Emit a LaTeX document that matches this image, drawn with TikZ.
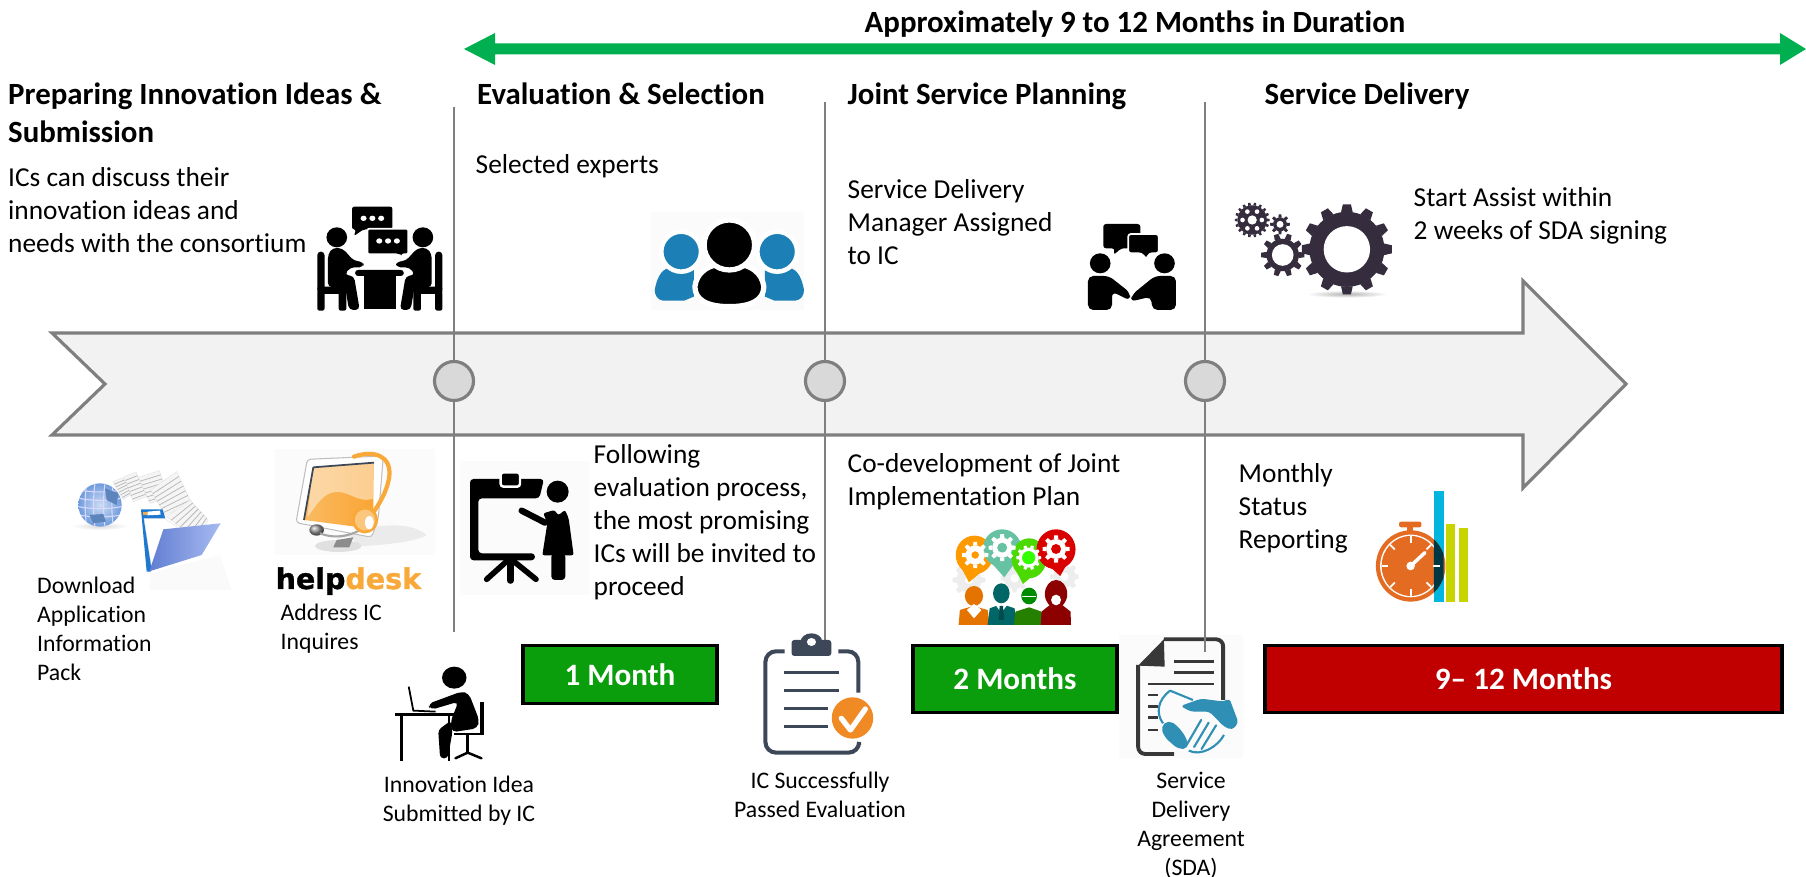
\documentclass[tikz,border=0pt]{standalone}
\usepackage{fontspec}
\usetikzlibrary{calc}
\setmainfont[Ligatures=NoCommon]{Carlito}
\newfontfamily\hdfont[BoldFeatures={FakeBold=1.2}]{DejaVu Sans}
\definecolor{axisgray}{HTML}{7F7F7F}
\definecolor{shaft}{HTML}{F2F2F2}
\definecolor{dotgray}{HTML}{D9D9D9}
\definecolor{spanGreen}{HTML}{00B050}
\definecolor{boxgreen}{HTML}{0A9E0C}
\definecolor{boxred}{HTML}{C00000}
\definecolor{expertblue}{HTML}{1C7FB6}
\definecolor{gearink}{HTML}{352C3D}
\definecolor{slateink}{HTML}{3C4858}
\definecolor{tickorange}{HTML}{F08A24}
\definecolor{watchorange}{HTML}{E46C22}
\definecolor{barblue}{HTML}{00B6DE}
\definecolor{baryellow}{HTML}{C8D400}
\definecolor{hdorange}{HTML}{F9A93A}
\definecolor{shakeblue}{HTML}{2F8FB5}
\definecolor{faintbg}{HTML}{FBFBFB}
\definecolor{folderblue}{HTML}{1E78D0}
\definecolor{folderfront}{HTML}{6C8CE8}
\definecolor{globeblue}{HTML}{6F9CDC}
\tikzset{
  bodytext/.style={font=\fontsize{7.78}{9.39}\selectfont,align=left,inner sep=0pt,anchor=north west,text=black},
  smalltext/.style={font=\fontsize{6.75}{8.25}\selectfont,align=left,inner sep=0pt,anchor=north west,text=black},
  smallcentre/.style={font=\fontsize{6.75}{8.25}\selectfont,align=center,inner sep=0pt,anchor=north,text=black},
  headtext/.style={font=\bfseries\fontsize{8.78}{10.6}\selectfont,align=left,inner sep=0pt,anchor=north west,text=black},
  spanbox/.style={draw=black,line width=1.1pt,text=white,font=\bfseries\fontsize{8.85}{10}\selectfont,inner sep=0pt},
  milestone/.style={circle,draw=axisgray,fill=dotgray,line width=0.9pt,minimum size=39*0.2845pt,inner sep=0pt},
  guide/.style={draw=axisgray,line width=0.45pt},
  paper/.style={fill=black!4,draw=black!12,line width=0.1pt},
}
\def\gy{1}
\newcommand{\gearshape}[8]{% cx cy router rinner hole teeth colour holecolour
  \begin{scope}[shift={(#1,#2)},yscale=\gy]
    \fill[#7] (0,0) circle [radius=#4];
    \pgfmathsetmacro\gstep{360/#6}
    \foreach \k in {1,...,#6}{
      \pgfmathsetmacro\ga{\k*\gstep}
      \fill[#7] (\ga-.30*\gstep:#4) -- (\ga-.17*\gstep:#3) -- (\ga+.17*\gstep:#3) -- (\ga+.30*\gstep:#4) -- cycle;
    }
    \fill[#8] (0,0) circle [radius=#5];
  \end{scope}}
\newcommand{\seatedperson}{%
  \fill (880,262) ellipse [x radius=27,y radius=30];
  \fill[rounded corners=1.2pt] (857,312)--(870,293)--(895,295)--(925,333)--(950,335)--(950,352)--(915,352)--(900,375)--(925,378)--(940,480)--(912,480)--(902,412)--(857,412)--cycle;
  \fill[rounded corners=1pt] (829,305)--(848,305)--(848,425)--(829,425)--cycle;
  \fill[rounded corners=.6pt] (829,410)--(905,410)--(905,432)--(829,432)--cycle;
  \fill[rounded corners=.6pt] (829,425)--(848,425)--(848,482)--(829,482)--cycle;
  \fill[rounded corners=.6pt] (885,425)--(905,425)--(905,482)--(885,482)--cycle;
}
\newcommand{\flyingsheet}[4]{% four corners
  \filldraw[paper] (#1) -- (#2) -- (#3) -- (#4) -- cycle;
  \foreach \t in {.15,.3,.45,.6,.75,.9}{\draw[black!28,line width=.22pt] ($(#1)!\t!(#4)$) -- ($(#2)!\t!(#3)$);}
}
\begin{document}
\begin{tikzpicture}[x=0.01cm,y=-0.01cm]
\useasboundingbox (0,0) rectangle (1806,877);
\fill[white] (0,0) rectangle (1806,877);

% ---------- duration arrow
\coordinate (spanL) at (464,49);
\coordinate (spanR) at (1806,49);
\fill[spanGreen] (spanL) -- (495,33) -- (495,43.5) -- (1780,43.5) -- (1780,33) -- (spanR) -- (1780,65) -- (1780,54.5) -- (495,54.5) -- (495,65) -- cycle;
\node[font=\bfseries\fontsize{8.78}{10.81}\selectfont,anchor=base,inner sep=0pt] (spanlabel) at (1135,33) {Approximately 9 to 12 Months in Duration};

% ---------- backdrops of icons
\fill[faintbg] (460,461) rectangle (589,595);
\fill[faintbg] (651,212) rectangle (804,310);
\fill[faintbg] (1119,635) rectangle (1243,758);
\fill[faintbg] (275,449) rectangle (435,555);

% ---------- main arrow
\draw[draw=axisgray,fill=shaft,line width=0.9pt,line join=miter] (52,333) -- (1523,333) -- (1523,281) -- (1626,384) -- (1523,488) -- (1523,435) -- (52,435) -- (105,384) -- cycle;

% ---------- milestones and guides
\coordinate (g1top) at (454,107); \coordinate (g1bot) at (454,632);
\coordinate (g2top) at (825,102); \coordinate (g2bot) at (825,640);
\coordinate (g3top) at (1205,102); \coordinate (g3bot) at (1205,652);
\draw[guide] (g1top) -- (g1bot);
\draw[guide] (g2top) -- (g2bot);
\node[milestone] (m1) at (454,381) {};
\node[milestone] (m2) at (825,381) {};

% ---------- headings
\node[headtext] (h1) at (7.5,78) {\strut Preparing Innovation Ideas \&\\Submission};
\node[headtext] (h2) at (476.5,78) {\strut Evaluation \& Selection};
\node[headtext] (h3) at (847,78) {\strut Joint Service Planning};
\node[headtext] (h4) at (1264,78) {\strut Service Delivery};

% ---------- body texts
\node[bodytext] (t1) at (7.5,163) {\strut ICs can discuss their\\innovation ideas and\\needs with the consortium};
\node[bodytext] (t2) at (475,150) {\strut Selected experts};
\node[bodytext] (t3) at (847,175) {\strut Service Delivery\\Manager Assigned\\to IC};
\node[bodytext] (t4) at (1413,182.5) {\strut Start Assist within\\2 weeks of SDA signing};
\node[bodytext] (t5) at (593,440) {\strut Following\\evaluation process,\\the most promising\\ICs will be invited to\\proceed};
\node[bodytext] (t6) at (847,448.5) {\strut Co-development of Joint\\Implementation Plan};
\node[bodytext] (t7) at (1238,459) {\strut Monthly\\Status\\Reporting};
\node[smalltext] (t8) at (36.5,572.7) {\strut Download\\Application\\Information\\Pack};
\node[smalltext] (t9) at (280,599.7) {\strut Address IC\\Inquires};
\node[smallcentre] (t10) at (459,771.2) {\strut Innovation Idea\\Submitted by IC};
\node[smallcentre] (t11) at (820,767.7) {\strut IC Successfully\\Passed Evaluation};
\node[smallcentre] (t12) at (1191,767.7) {\strut Service\\Delivery\\Agreement\\(SDA)};
\node[anchor=base west,inner sep=0pt,font=\hdfont\bfseries\fontsize{8.1}{10}\selectfont] (hd) at (275,589) {help\textcolor{hdorange}{desk}};

% ---------- duration boxes
\node[spanbox,fill=boxgreen,minimum width=194*0.2845pt,minimum height=58*0.2845pt] (b1) at (620,674.5) {1 Month};
\node[spanbox,fill=boxgreen,minimum width=204*0.2845pt,minimum height=67*0.2845pt] (b2) at (1015,679) {2 Months};
\node[spanbox,fill=boxred,minimum width=516*0.2845pt,minimum height=67*0.2845pt] (b3) at (1523.5,679) {9-- 12 Months};

% ---------- meeting icon
\begin{scope}[shift={(0,150)},xscale=.3827,yscale=.3333]
  \seatedperson
  \begin{scope}[shift={(1985,0)},xscale=-1]\seatedperson\end{scope}
  \fill[rounded corners=.8pt] (928,360) -- (1055,360) -- (1055,378) -- (928,378) -- cycle;
  \fill (950,370) rectangle (1035,478);
  \fill[rounded corners=.6pt] (920,170) -- (1025,170) -- (1025,238) -- (950,238) -- (925,258) -- (930,238) -- (920,238) -- cycle;
  \filldraw[draw=white,line width=.5pt,rounded corners=.6pt] (960,236) -- (1067,236) -- (1067,313) -- (1050,313) -- (1060,326) -- (1040,313) -- (960,313) -- cycle;
  \foreach \dx in {950,973,996}{\fill[white] (\dx,205) ellipse [x radius=8,y radius=8];}
  \foreach \dx in {991,1014,1037}{\fill[white] (\dx,273) ellipse [x radius=8,y radius=8];}
\end{scope}

% ---------- experts icon
\begin{scope}[shift={(600,150)},xscale=.3827,yscale=.3333]
  \fill[expertblue] (143,420) .. controls (150,375) and (165,350) .. (195,352) -- (245,350) -- (245,440) -- (220,452) -- (165,452) .. controls (150,450) and (143,435) .. (143,420) -- cycle;
  \fill[expertblue] (533,420) .. controls (526,375) and (511,350) .. (481,352) -- (431,350) -- (431,440) -- (456,452) -- (511,452) .. controls (526,450) and (533,435) .. (533,420) -- cycle;
  \filldraw[fill=expertblue,draw=white,line width=1.3pt] (212,305) ellipse [x radius=52,y radius=60];
  \filldraw[fill=expertblue,draw=white,line width=1.3pt] (463,305) ellipse [x radius=52,y radius=60];
  \filldraw[fill=black,draw=white,line width=1.5pt] (248,410) .. controls (252,370) and (280,340) .. (338,340) .. controls (395,340) and (424,370) .. (428,410) .. controls (428,450) and (395,470) .. (338,470) .. controls (280,470) and (248,450) .. (248,410) -- cycle;
  \filldraw[fill=black,draw=white,line width=1.5pt] (338,285) ellipse [x radius=66,y radius=75];
\end{scope}

% ---------- handshake icon
\begin{scope}[shift={(600,150)},xscale=.3827,yscale=.3333]
  \fill (1307,340) ellipse [x radius=27,y radius=30];
  \fill (1475,340) ellipse [x radius=27,y radius=30];
  \fill[rounded corners=1.5pt] (1275,480) -- (1275,378) -- (1330,378) -- (1385,428) -- (1385,452) -- (1338,425) -- (1338,480) -- cycle;
  \fill[rounded corners=1.5pt] (1505,480) -- (1505,378) -- (1450,378) -- (1392,432) -- (1385,455) -- (1440,440) -- (1443,480) -- cycle;
  \fill[rounded corners=.8pt] (1315,222) -- (1412,222) -- (1412,295) -- (1362,295) -- (1342,315) -- (1345,295) -- (1315,295) -- cycle;
  \filldraw[draw=white,line width=.5pt,rounded corners=.8pt] (1380,252) -- (1460,252) -- (1460,310) -- (1435,310) -- (1428,328) -- (1415,310) -- (1380,310) -- cycle;
\end{scope}

% ---------- gears
\begin{scope}[shift={(1200,180)},xscale=.3865,yscale=.3333]
  \def\gy{1.16}
  \shade[inner color=black!30,outer color=white] (380,342) ellipse [x radius=105,y radius=11];
  \gearshape{380}{208}{117}{97}{60}{12}{gearink}{white}
  \gearshape{214}{225}{56}{42}{28}{10}{gearink}{white}
  \gearshape{207}{133}{26}{18}{9}{8}{gearink}{white}
  \gearshape{135}{120}{45}{38}{12}{18}{gearink}{white}
  \foreach \a in {0,60,...,300}{\fill[white] ({135+25*cos(\a)},{120+29*sin(\a)}) ellipse [x radius=6,y radius=7];}
\end{scope}

% ---------- stopwatch and bars
\begin{scope}[shift={(1200,180)},xscale=.3865,yscale=.3333]
  \fill[barblue] (605,933) rectangle (630,1265);
  \fill[baryellow] (637,1032) rectangle (660,1265);
  \fill[baryellow] (670,1045) rectangle (693,1265);
  \fill[watchorange] (545,1158) ellipse [x radius=90,y radius=107];
  \fill[white] (545,1158) ellipse [x radius=79,y radius=94];
  \fill[watchorange] (545,1158) ellipse [x radius=75,y radius=90];
  \begin{scope}
    \clip (605,933) rectangle (630,1265);
    \fill[black!70!barblue] (545,1158) ellipse [x radius=90,y radius=107];
  \end{scope}
  \fill[watchorange,rounded corners=.6pt] (515,1025) rectangle (573,1042);
  \fill[watchorange] (536,1040) rectangle (552,1060);
  \foreach \a in {0,45,...,315}{\draw[white,line width=.5pt] ({545+58*cos(\a)},{1158+70*sin(\a)}) -- ({545+75*cos(\a)},{1158+90*sin(\a)});}
  \draw[white,line width=1pt,line cap=round] (545,1158) -- (582,1118);
  \fill[white] (545,1158) ellipse [x radius=11,y radius=13];
\end{scope}

% ---------- globe, papers and folder
\begin{scope}[shift={(50,440)},scale=.3333]
  \shade[inner color=black!14,outer color=white] (150,258) ellipse [x radius=85,y radius=12];
  \fill[black!2] (300,400) -- (510,345) -- (545,450) -- (300,450) -- cycle;
  \shade[inner color=globeblue!35!white,outer color=globeblue] (150,195) circle [radius=65];
  \begin{scope}
    \clip (150,195) circle [radius=65];
    \foreach \yy in {150,175,200,225}{\draw[white!85!blue,line width=.3pt] (85,\yy) .. controls (130,\yy+8) and (170,\yy+8) .. (215,\yy);}
    \foreach \xx in {110,135,165,190}{\draw[white!85!blue,line width=.3pt] (\xx,130) .. controls (\xx-6,175) and (\xx-6,215) .. (\xx,260);}
    \fill[globeblue!85!black] (118,225) -- (160,222) -- (168,245) -- (130,250) -- cycle;
    \fill[globeblue!85!black] (165,145) -- (205,160) -- (200,195) -- (170,180) -- cycle;
  \end{scope}
  \flyingsheet{188,125}{218,113}{250,160}{220,178}
  \flyingsheet{222,110}{258,96}{290,170}{250,185}
  \flyingsheet{265,112}{328,92}{355,175}{300,190}
  \flyingsheet{302,150}{380,95}{425,190}{345,225}
  \flyingsheet{350,230}{420,180}{475,240}{440,300}
  \fill[folderblue] (273,208) -- (338,208) -- (346,236) -- (330,300) -- (302,395) -- (290,395) -- cycle;
  \fill[hdorange] (280,215) rectangle (292,226);
  \fill[white] (292,215) -- (330,212) -- (332,224) -- (292,226) -- cycle;
  \filldraw[paper,fill=white] (282,236) -- (345,236) -- (380,260) -- (340,330) -- (305,385) -- cycle;
  \shade[left color=folderfront!90!black,right color=folderfront!60!white] (340,268) -- (512,250) -- (455,345) -- (298,394) -- cycle;
\end{scope}

% ---------- help-desk monitor
\begin{scope}[shift={(50,440)},scale=.3333]
  \fill[black!8] (850,300) .. controls (950,250) and (1080,240) .. (1130,285) .. controls (1090,310) and (960,320) .. (850,320) -- cycle;
  \fill[black!8,rounded corners=.8pt] (950,255) -- (985,235) -- (975,295) -- (945,295) -- cycle;
  \filldraw[fill=white,draw=black!25,line width=.3pt,rounded corners=1pt] (772,58) -- (1000,48) -- (985,235) -- (965,292) -- (738,248) -- cycle;
  \shade[left color=hdorange!80!white,right color=hdorange!90!orange] (790,82) -- (972,68) -- (970,215) -- (955,265) -- (762,240) -- cycle;
  \fill[white,opacity=.45] (790,82) -- (972,68) -- (972,175) .. controls (920,195) and (890,140) .. (840,160) .. controls (810,172) and (790,210) .. (772,232) -- cycle;
  \draw[slateink,line width=.5pt] (790,82) -- (972,68);
  \draw[slateink,line width=.5pt] (790,82) -- (762,240);
  \fill[white] (810,305) -- (900,290) -- (930,320) -- (900,336) -- (830,336) -- (795,320) -- cycle;
  \fill[black!12] (865,318) ellipse [x radius=70,y radius=18];
  \fill[black!45] (860,300) -- (910,292) -- (898,322) -- (850,322) -- cycle;
  \shade[ball color=black!40] (800,270) ellipse [x radius=22,y radius=17];
  \draw[black!35,line width=.6pt] (810,280) .. controls (860,300) and (910,285) .. (945,262);
  \draw[hdorange,line width=1.2pt,line cap=round] (912,50) .. controls (970,30) and (1025,45) .. (1018,110) .. controls (1010,160) and (985,195) .. (965,225);
  \filldraw[fill=hdorange!65,draw=hdorange,line width=.8pt] (945,240) ellipse [x radius=35,y radius=36];
  \fill[white] (958,248) ellipse [x radius=13,y radius=20];
\end{scope}

% ---------- presenter
\begin{scope}[shift={(460,430)},scale=.3333]
  \fill[rounded corners=1pt] (30,147) -- (252,147) -- (238,205) -- (55,205) -- (55,370) -- (225,370) -- (225,391) -- (30,391) -- cycle;
  \filldraw[draw=white,line width=.7pt,rounded corners=.8pt] (122,127) rectangle (180,170);
  \draw[line width=1.6pt,line cap=round] (150,385) -- (80,448);
  \draw[line width=1.6pt,line cap=round] (150,385) -- (228,448);
  \draw[line width=1.8pt,line cap=round] (151,385) -- (151,452);
  \fill (293,185) circle [radius=33];
  \draw[line width=1.8pt,line cap=round] (185,242) -- (255,278);
  \fill[rounded corners=.6pt] (250,250) -- (283,240) -- (295,256) -- (315,240) -- (326,265) -- (341,376) -- (247,376) -- (262,280) -- cycle;
  \fill[rounded corners=1pt] (274,370) -- (316,370) -- (316,450) -- (274,450) -- cycle;
\end{scope}

% ---------- person at desk
\begin{scope}[shift={(0,430)},xscale=.3827,yscale=.3333]
  \fill (1187,743) ellipse [x radius=32,y radius=33];
  \fill[rounded corners=1.4pt] (1118,822) -- (1205,785) -- (1225,790) -- (1252,870) -- (1248,895) -- (1180,907) -- (1178,872) -- (1198,815) -- (1125,840) -- cycle;
  \fill[rounded corners=1pt] (1178,872) -- (1145,900) -- (1150,985) -- (1170,985) -- (1182,907) -- cycle;
  \fill (1033,848) rectangle (1185,858);
  \fill (1045,855) rectangle (1052,992);
  \fill (1170,855) rectangle (1177,992);
  \draw[line width=.5pt] (1068,770) -- (1080,842) -- (1138,845);
  \fill (1255,815) rectangle (1264,915);
  \fill (1185,908) rectangle (1265,915);
  \fill (1218,915) rectangle (1226,970);
  \draw[line width=.7pt,line cap=round] (1190,985) -- (1222,968) -- (1258,985);
\end{scope}

% ---------- clipboard
\begin{scope}[shift={(600,500)},xscale=.4146,yscale=.3333]
  \draw[slateink,line width=1.15pt,rounded corners=3pt] (445,454) -- (399,454) -- (399,758) -- (625,758) -- (625,735);
  \draw[slateink,line width=1.15pt,rounded corners=3pt] (575,454) -- (623,454) -- (623,578);
  \fill[slateink,rounded corners=.8pt] (462,420) rectangle (558,468);
  \fill[slateink] (510,425) ellipse [x radius=26,y radius=25];
  \fill[white] (510,426) ellipse [x radius=11,y radius=12];
  \foreach \yy/\xe in {518/577,571/577,625/550,679/550}{\draw[slateink,line width=.7pt] (444,\yy) -- (\xe,\yy);}
  \fill[tickorange] (609,654) ellipse [x radius=50,y radius=62];
  \draw[white,line width=1.5pt,line cap=round,line join=round] (582,655) -- (604,690) -- (640,627);
\end{scope}

% ---------- bubbles and people
\begin{scope}[shift={(600,500)},xscale=.4146,yscale=.3333]
  \def\gy{1.244}
  \gearshape{890}{240}{40}{30}{10}{8}{black!7}{white}
  \gearshape{1120}{230}{35}{27}{10}{8}{black!7}{white}
  \gearshape{1000}{235}{34}{26}{10}{8}{black!7}{white}
  \fill[orange!80!yellow] (903,165) ellipse [x radius=45,y radius=58];
  \fill[orange!80!yellow] (870,200) -- (890,247) -- (925,210) -- cycle;
  \fill[green!60!blue!60!white] (970,145) ellipse [x radius=46,y radius=57];
  \fill[green!60!blue!60!white] (945,190) -- (975,232) -- (1000,190) -- cycle;
  \fill[green!70!orange] (1035,175) ellipse [x radius=42,y radius=60];
  \fill[green!70!orange] (1005,215) -- (1020,252) -- (1055,215) -- cycle;
  \fill[red!85!black] (1100,148) ellipse [x radius=47,y radius=60];
  \fill[red!85!black] (1085,200) -- (1110,228) -- (1125,195) -- cycle;
  \gearshape{905}{165}{32}{23}{9}{8}{white}{orange!80!yellow}
  \gearshape{970}{143}{33}{24}{12}{8}{white}{green!60!blue!60!white}
  \gearshape{1034}{173}{30}{24}{16}{10}{white}{green!80!yellow}
  \gearshape{1100}{147}{33}{24}{12}{8}{white}{red!85!black}
  \fill[orange!90!black] (865,375) -- (868,330) -- (900,318) -- (935,330) -- (940,375) -- cycle;
  \fill[orange!90!black] (902,288) ellipse [x radius=22,y radius=30];
  \fill[white] (885,330) -- (902,355) -- (920,330) -- (902,312) -- cycle;
  \fill[teal!80!black] (935,375) -- (940,325) -- (968,312) -- (1000,325) -- (1004,375) -- cycle;
  \fill[teal!80!black] (968,280) ellipse [x radius=20,y radius=30];
  \fill[white] (952,312) -- (968,338) -- (984,312) -- cycle;
  \fill[black!40!teal] (964,318) -- (972,318) -- (975,360) -- (961,360) -- cycle;
  \fill[green!50!black!85!orange] (998,375) -- (1002,335) -- (1035,322) -- (1065,335) -- (1070,375) -- cycle;
  \fill[green!55!black] (1035,288) ellipse [x radius=19,y radius=25];
  \draw[white,line width=.4pt] (1018,290) -- (1052,290);
  \fill[red!55!black] (1100,282) ellipse [x radius=27,y radius=42];
  \fill[red!55!black] (1063,375) -- (1065,335) -- (1085,315) -- (1115,315) -- (1135,335) -- (1136,375) -- cycle;
  \fill[white] (1100,300) ellipse [x radius=12,y radius=16];
\end{scope}

% ---------- agreement document
\begin{scope}[shift={(600,500)},xscale=.4146,yscale=.3333]
  \draw[black!78,line width=1.1pt,rounded corners=2pt] (1360,418) -- (1503,418) -- (1503,600);
  \draw[black!78,line width=1.1pt,rounded corners=2pt] (1298,495) -- (1298,762) -- (1385,762);
  \fill[black!78] (1360,418) -- (1362,500) -- (1298,497) -- cycle;
  \foreach \yy/\xs in {484/1385,518/1385,552/1322}{\draw[black!78,line width=.8pt] (\xs,\yy) -- (1480,\yy);}
  \foreach \yy in {585,620,653,690}{\draw[black!78,line width=.8pt] (1322,\yy) -- (1346,\yy);}
  \draw[shakeblue,line width=.6pt] (1375,572) .. controls (1345,600) and (1340,640) .. (1358,670);
  \draw[shakeblue,line width=.6pt] (1375,572) -- (1430,600);
  \fill[shakeblue,rounded corners=1pt] (1400,618) -- (1450,596) -- (1505,605) -- (1518,595) -- (1540,668) -- (1525,690) -- (1505,680) -- (1470,635) -- (1425,635) -- cycle;
  \fill[shakeblue,rounded corners=1.5pt] (1352,680) -- (1372,660) -- (1395,680) -- (1415,715) -- (1420,745) -- (1395,748) -- (1362,712) -- cycle;
  \foreach \s in {0,1,2}{\draw[shakeblue,line width=.6pt,line cap=round] (1450+\s*18,660+\s*8) -- (1415+\s*18,735+\s*6);}
  \draw[shakeblue,line width=.6pt] (1420,752) .. controls (1450,770) and (1490,740) .. (1505,705);
\end{scope}

% ---------- third guide drawn over the document, third milestone on top
\draw[guide] (g3top) -- (g3bot);
\node[milestone] (m3) at (1205,381) {};
\end{tikzpicture}
\end{document}
